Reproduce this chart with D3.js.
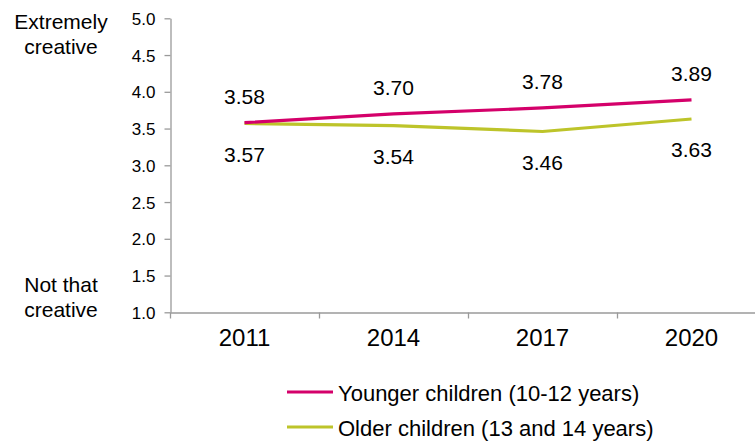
<!DOCTYPE html>
<html>
<head>
<meta charset="utf-8">
<script src="https://cdn.jsdelivr.net/npm/d3@7"></script>
<style>
  html, body { margin: 0; padding: 0; background: #fff; }
  svg { display: block; }
  svg text { font-family: "Liberation Sans", Arial, sans-serif; }
</style>
</head>
<body>
<svg id="chart" width="755" height="441"></svg>
<script>
const years = ["2011", "2014", "2017", "2020"];
const younger = [3.58, 3.70, 3.78, 3.89];
const older = [3.57, 3.54, 3.46, 3.63];
const yTicks = [1.0, 1.5, 2.0, 2.5, 3.0, 3.5, 4.0, 4.5, 5.0];
const seriesNames = ["Younger children (10-12 years)", "Older children (13 and 14 years)"];
const seriesColors = ["#d4006a", "#bdc42a"];

const FONT = "'Liberation Sans', Arial, sans-serif";
const svg = d3.select("#chart");
const axisColor = "#9a9a9a";

const x = d3.scaleBand().domain(years).range([170, 766]).paddingInner(0).paddingOuter(0);
const y = d3.scaleLinear().domain([1, 5]).range([312.3, 18.3]);

// Y axis
const yAxis = svg.append("g").attr("transform", "translate(170.5,0)")
  .call(d3.axisLeft(y).tickValues(yTicks).tickFormat(d3.format(".1f")).tickSize(6).tickSizeOuter(0))
  .attr("font-family", FONT);
yAxis.select(".domain").attr("stroke", axisColor).attr("stroke-width", 1.3);
yAxis.selectAll(".tick line").attr("stroke", axisColor).attr("stroke-width", 1.3);
yAxis.selectAll(".tick text").attr("x", -15).attr("dy", "0.36em")
  .attr("font-size", 17).attr("fill", "#000");

// X axis
const xAxis = svg.append("g").attr("transform", "translate(0,312.5)")
  .call(d3.axisBottom(x).tickSize(0).tickSizeOuter(0))
  .attr("font-family", FONT);
xAxis.select(".domain").attr("stroke", axisColor).attr("stroke-width", 1.3);
xAxis.selectAll(".tick text").remove();
xAxis.selectAll(".tick line").remove();
const bounds = years.map(d => x(d)).concat([x(years[years.length - 1]) + x.bandwidth()]);
xAxis.selectAll("line.bt").data(bounds).enter().append("line")
  .attr("class", "bt")
  .attr("x1", d => Math.round(d) + 0.5).attr("x2", d => Math.round(d) + 0.5)
  .attr("y1", 0).attr("y2", 6)
  .attr("stroke", axisColor).attr("stroke-width", 1.3);
xAxis.selectAll("text.yl").data(years).enter().append("text")
  .attr("class", "yl")
  .attr("x", d => x(d) + x.bandwidth() / 2)
  .attr("y", 33.5)
  .attr("text-anchor", "middle")
  .attr("font-size", 24)
  .attr("fill", "#000")
  .text(d => d);

// Axis end titles
const titles = [
  { lines: ["Extremely", "creative"], top: 29 },
  { lines: ["Not that", "creative"], top: 292 }
];
titles.forEach(t => {
  const txt = svg.append("text").attr("text-anchor", "middle").attr("font-size", 21).attr("fill", "#000");
  t.lines.forEach((l, i) => {
    txt.append("tspan").attr("x", 61).attr("y", t.top + i * 25).text(l);
  });
});

// Lines
const line = d3.line().x((d, i) => x(years[i]) + x.bandwidth() / 2).y(d => y(d));
const data = [younger, older];
[1, 0].forEach(k => {
  svg.append("path")
    .datum(data[k])
    .attr("d", line)
    .attr("fill", "none")
    .attr("stroke", seriesColors[k])
    .attr("stroke-width", 3.2)
    .attr("stroke-linejoin", "round");
});

// Data labels
svg.selectAll("text.lblY").data(younger).enter().append("text")
  .attr("class", "lblY")
  .attr("x", (d, i) => x(years[i]) + x.bandwidth() / 2)
  .attr("y", d => y(d) - 19)
  .attr("text-anchor", "middle").attr("font-size", 21).attr("fill", "#000")
  .text(d => d3.format(".2f")(d));
svg.selectAll("text.lblO").data(older).enter().append("text")
  .attr("class", "lblO")
  .attr("x", (d, i) => x(years[i]) + x.bandwidth() / 2)
  .attr("y", d => y(d) + 38.5)
  .attr("text-anchor", "middle").attr("font-size", 21).attr("fill", "#000")
  .text(d => d3.format(".2f")(d));

// Legend
const legend = svg.append("g");
seriesNames.forEach((name, i) => {
  const ly = 392 + i * 35;
  legend.append("line")
    .attr("x1", 287).attr("x2", 333).attr("y1", ly).attr("y2", ly)
    .attr("stroke", seriesColors[i]).attr("stroke-width", 3.2);
  legend.append("text")
    .attr("x", 338).attr("y", ly + 8.5)
    .attr("font-size", 22).attr("fill", "#000")
    .text(name);
});
</script>
</body>
</html>
